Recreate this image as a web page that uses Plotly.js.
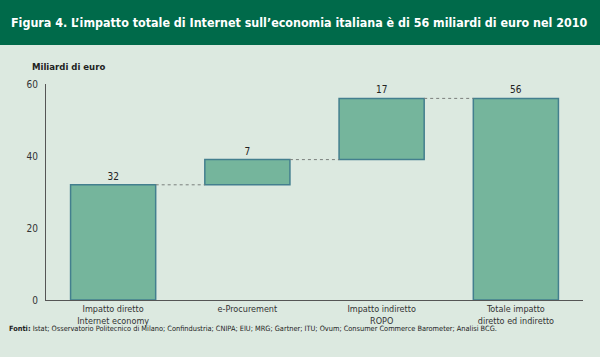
<!DOCTYPE html>
<html>
<head>
<meta charset="utf-8">
<script src="https://cdn.plot.ly/plotly-3.0.1.min.js"></script>
<style>
html,body{margin:0;padding:0;background:#dce9e0;}
#chart{width:600px;height:357px;}
</style>
</head>
<body>
<div id="chart"></div>
<script>
// ---- data ----
const categories = ["Impatto diretto<br>Internet economy", "e-Procurement", "Impatto indiretto<br>ROPO", "Totale impatto<br>diretto ed indiretto"];
const values = [32, 7, 17, 56];
const measures = ["relative", "relative", "relative", "total"];
const yTicks = [0, 20, 40, 60];
const titleText = "Figura 4. L\u2019impatto totale di Internet sull\u2019economia italiana è di 56 miliardi di euro nel 2010";
const yTitleText = "Miliardi di euro";
const sourceText = "<b>Fonti:</b> Istat; Osservatorio Politecnico di Milano; Confindustria; CNIPA; EIU; MRG; Gartner; ITU; Ovum; Consumer Commerce Barometer; Analisi BCG.";

// ---- derived ----
const xs = categories.map((_, i) => i);
const bases = [];
let run = 0;
values.forEach((v, i) => {
  if (measures[i] === "total") { bases.push(0); run = v; }
  else { bases.push(run); run += v; }
});
const tops = values.map((v, i) => bases[i] + v);
const barW = 0.634;
const connX = [], connY = [];
for (let i = 0; i < xs.length - 1; i++) {
  connX.push(xs[i] + barW / 2, xs[i + 1] - barW / 2, null);
  connY.push(tops[i], tops[i], null);
}

// ---- layout geometry (pixels) ----
const W = 600, H = 357;
const M = {l: 46, r: 17, t: 84, b: 57};
const PW = W - M.l - M.r, PH = H - M.t - M.b;
const px2x = p => (p - M.l) / PW;
const py2y = p => (H - M.b - p) / PH;

const FONT = "'DejaVu Sans Condensed', 'DejaVu Sans', sans-serif";

const traces = [
  {
    type: "scatter", mode: "lines", x: connX, y: connY,
    line: {color: "#7a7f7c", width: 1, dash: "3px,3px"},
    hoverinfo: "skip", showlegend: false
  },
  {
    type: "bar", x: xs, y: values, base: bases, width: barW,
    marker: {color: "#75b59c", line: {color: "#437f8e", width: 1.5}},
    text: values.map(String), textposition: "outside", cliponaxis: false,
    textfont: {family: FONT, size: 10, color: "#222"},
    hoverinfo: "skip", showlegend: false
  }
];

const layout = {
  width: W, height: H,
  margin: M,
  paper_bgcolor: "#dce9e0", plot_bgcolor: "#dce9e0",
  font: {family: FONT, size: 10, color: "#333"},
  showlegend: false,
  xaxis: {
    range: [-0.5, 3.5], tickvals: xs, ticktext: categories,
    showline: true, linecolor: "#555", linewidth: 1,
    showgrid: false, zeroline: false, ticks: "",
    tickfont: {family: FONT, size: 9, color: "#333"}, fixedrange: true
  },
  yaxis: {
    range: [0, 60], tickvals: yTicks,
    showline: true, linecolor: "#555", linewidth: 1,
    showgrid: false, zeroline: false, ticks: "",
    ticklabelstandoff: 5,
    tickfont: {family: FONT, size: 10, color: "#333"}, fixedrange: true
  },
  shapes: [{
    type: "rect", xref: "paper", yref: "paper", layer: "below",
    x0: px2x(0), x1: px2x(W), y0: py2y(45), y1: py2y(0),
    fillcolor: "#006a4a", line: {width: 0}
  }],
  annotations: [
    {text: "<b>" + titleText + "</b>", xref: "paper", yref: "paper",
     x: px2x(9), y: py2y(22), xanchor: "left", yanchor: "middle", showarrow: false,
     font: {family: FONT, size: 12.4, color: "#ffffff"}},
    {text: "<b>" + yTitleText + "</b>", xref: "paper", yref: "paper",
     x: px2x(30), y: py2y(66), xanchor: "left", yanchor: "middle", showarrow: false,
     font: {family: FONT, size: 9.5, color: "#222"}},
    {text: sourceText, xref: "paper", yref: "paper",
     x: px2x(7), y: py2y(328), xanchor: "left", yanchor: "middle", showarrow: false,
     font: {family: FONT, size: 7.35, color: "#222"}}
  ]
};

Plotly.newPlot("chart", traces, layout, {displayModeBar: false, staticPlot: true});
</script>
</body>
</html>
